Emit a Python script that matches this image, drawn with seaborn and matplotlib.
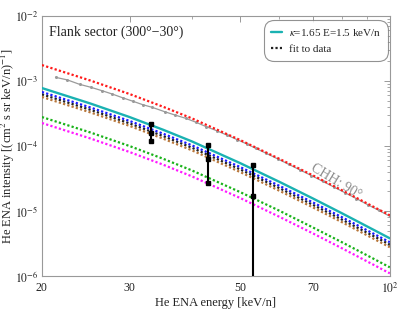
import numpy as np
import pandas as pd
import matplotlib
matplotlib.use("Agg")
import matplotlib.pyplot as plt
import seaborn as sns

energy = [20, 25, 30, 35, 40, 50, 60, 70, 80, 90, 100]

kappa_fit = [7.8e-4, 4.52e-4, 2.79e-4, 1.785e-4, 1.18e-4, 5.47e-5, 2.81e-5, 1.565e-5, 9.29e-6, 5.80e-6, 3.80e-6]
blue_curve = [6.79e-4, 3.93e-4, 2.43e-4, 1.553e-4, 1.027e-4, 4.76e-5, 2.44e-5, 1.36e-5, 8.08e-6, 5.05e-6, 3.31e-6]
fit_data = [6.24e-4, 3.62e-4, 2.23e-4, 1.428e-4, 9.44e-5, 4.38e-5, 2.25e-5, 1.25e-5, 7.43e-6, 4.64e-6, 3.04e-6]
brown_curve = [5.69e-4, 3.30e-4, 2.04e-4, 1.303e-4, 8.61e-5, 3.99e-5, 2.05e-5, 1.14e-5, 6.78e-6, 4.23e-6, 2.77e-6]
red_curve = [1.76e-3, 1.02e-3, 6.31e-4, 4.03e-4, 2.67e-4, 1.24e-4, 6.35e-5, 3.54e-5, 2.10e-5, 1.31e-5, 8.59e-6]
green_curve = [2.79e-4, 1.62e-4, 9.99e-5, 6.39e-5, 4.22e-5, 1.96e-5, 1.01e-5, 5.60e-6, 3.33e-6, 2.08e-6, 1.36e-6]
magenta_curve = [2.26e-4, 1.31e-4, 8.09e-5, 5.18e-5, 3.42e-5, 1.59e-5, 8.15e-6, 4.54e-6, 2.69e-6, 1.68e-6, 1.10e-6]

# CHH 90 deg reference spectrum (grey with markers)
chh_energy = [21.3, 22.5, 23.8, 25.1, 26.4, 27.7, 29.1, 30.5, 31.9, 33.3, 35.3, 37.0, 38.9,
              40.8, 42.8, 44.9, 47.1, 49.4, 51.7, 53.8, 56.5, 59.5, 62.7, 66.0, 69.6, 73.3,
              77.2, 81.3, 85.7, 90.3, 95.1, 100]
chh_flux = [1.14e-3, 1.04e-3, 8.9e-4, 8.0e-4, 7.1e-4, 6.3e-4, 5.5e-4, 4.87e-4, 4.32e-4, 3.94e-4,
            3.37e-4, 3.0e-4, 2.67e-4, 2.32e-4, 1.98e-4, 1.72e-4, 1.47e-4, 1.25e-4, 1.07e-4,
            9.2e-5, 7.7e-5, 6.35e-5, 5.21e-5, 4.29e-5, 3.51e-5, 2.87e-5, 2.34e-5, 1.91e-5,
            1.55e-5, 1.25e-5, 1.02e-5, 8.3e-6]

# measured points with error bars
data_energy = [33.2, 43.1, 53.2]
data_flux = [1.58e-4, 6.3e-5, 1.70e-5]
data_high = [2.18e-4, 1.04e-4, 5.1e-5]
data_low = [1.19e-4, 2.7e-5, 1e-8]

sns.set_theme(style="white")
plt.rcParams["font.family"] = ["Liberation Serif", "DejaVu Serif"]
plt.rcParams["mathtext.fontset"] = "stix"

fig = plt.figure(figsize=(3.99, 3.11), dpi=100)
ax = fig.add_axes([0.105, 0.1125, 0.872, 0.836])

dot = (0, (1, 1))
sns.lineplot(x=chh_energy, y=chh_flux, color="#9a9a9a", lw=0.9, marker="o", markersize=2.2,
             markeredgewidth=0, ax=ax, zorder=2)
sns.lineplot(x=energy, y=red_curve, color="#ff1a1a", lw=1.6, linestyle=dot, ax=ax, zorder=3)
sns.lineplot(x=energy, y=brown_curve, color="#b8763a", lw=1.6, linestyle=dot, ax=ax, zorder=3)
sns.lineplot(x=energy, y=fit_data, color="#222222", lw=1.6, linestyle=dot, ax=ax, zorder=3)
sns.lineplot(x=energy, y=blue_curve, color="#1a1aff", lw=1.6, linestyle=dot, ax=ax, zorder=3)
sns.lineplot(x=energy, y=kappa_fit, color="#1ab2b2", lw=1.7, ax=ax, zorder=4)
sns.lineplot(x=energy, y=green_curve, color="#1ab21a", lw=1.6, linestyle=dot, ax=ax, zorder=3)
sns.lineplot(x=energy, y=magenta_curve, color="#ff1aff", lw=1.6, linestyle=dot, ax=ax, zorder=3)

for e, f, hi, lo in zip(data_energy, data_flux, data_high, data_low):
    ax.plot([e, e], [lo, hi], color="black", lw=1.5, zorder=5)
    ax.plot([e, e, e], [lo, f, hi], "s", color="black", markersize=2.6, zorder=6)

ax.text(78, 2.8e-5, "CHH: 90°", color="#8c8c8c", fontsize=10, rotation=-31,
        ha="center", va="center", zorder=7)

ax.set_xscale("log")
ax.set_yscale("log")
ax.set_xlim(20, 100)
ax.set_ylim(1e-6, 1e-2)

ax.set_xticks([20, 30, 50, 70, 100])
ax.set_xticklabels(["20", "30", "50", "70", "$10^2$"])
ax.set_xticks([40, 60, 80, 90], minor=True)
ax.set_xticklabels([], minor=True)
ax.set_yticks([1e-6, 1e-5, 1e-4, 1e-3, 1e-2])
ax.set_yticklabels(["$10^{-6}$", "$10^{-5}$", "$10^{-4}$", "$10^{-3}$", "$10^{-2}$"])
ax.yaxis.set_minor_locator(matplotlib.ticker.LogLocator(base=10, subs=np.arange(2, 10)))
ax.yaxis.set_minor_formatter(matplotlib.ticker.NullFormatter())

ax.tick_params(which="both", direction="in", top=True, right=True, color="#999999",
               labelsize=8.5, labelcolor="#222222", pad=2.5)
ax.tick_params(axis="x", which="both", pad=4)
ax.tick_params(which="major", length=4, width=0.7)
ax.tick_params(which="minor", length=2, width=0.6)
for s in ax.spines.values():
    s.set_color("#999999")
    s.set_linewidth(0.8)

ax.set_xlabel("He ENA energy [keV/n]", fontsize=9, color="#222222", labelpad=1)
ax.set_ylabel("He ENA intensity [(cm$^2$ s sr keV/n)$^{-1}$]", fontsize=9,
              color="#222222")
ax.yaxis.set_label_coords(-0.072, 0.5)

ax.text(0.02, 0.965, "Flank sector (300°−30°)", transform=ax.transAxes, fontsize=10,
        ha="left", va="top", color="#222222")

handles = [plt.Line2D([], [], color="#1ab2b2", lw=1.7),
           plt.Line2D([], [], color="#222222", lw=1.6, linestyle=dot)]
leg = ax.legend(handles, ["$\\kappa$=1.65 E=1.5 keV/n", "fit to data"], loc="upper right",
                fontsize=8, handlelength=1.0, handletextpad=0.6, frameon=True, fancybox=True,
                borderpad=0.45, labelspacing=0.55, borderaxespad=0,
                bbox_to_anchor=(0.989, 0.977))
leg.get_frame().set_edgecolor("#777777")
leg.get_frame().set_linewidth(0.8)
leg.get_frame().set_boxstyle("round", pad=0.2, rounding_size=0.9)

fig.savefig("out.png", dpi=100)
